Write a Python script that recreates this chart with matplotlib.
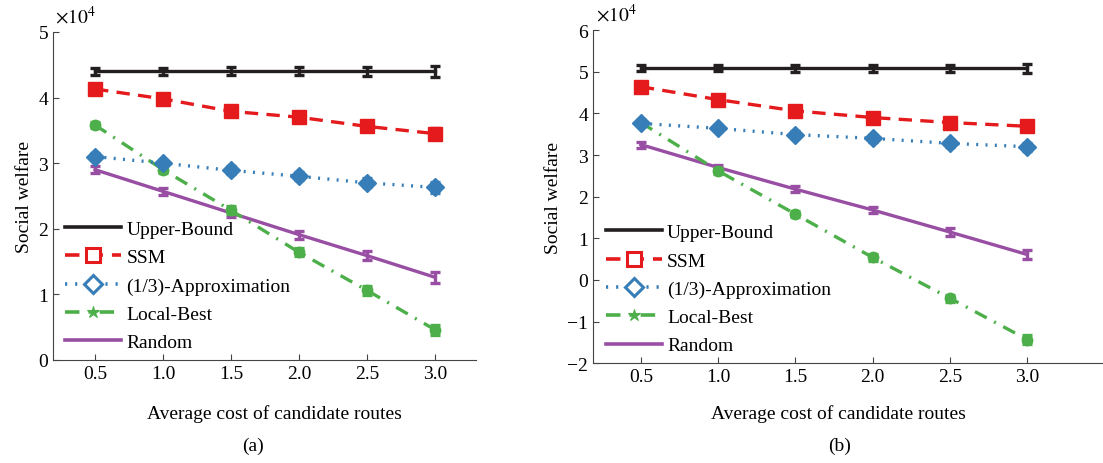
import numpy as np
import matplotlib.pyplot as plt
from matplotlib.lines import Line2D

plt.rcParams['font.family'] = ['Liberation Serif', 'DejaVu Serif']
plt.rcParams['mathtext.fontset'] = 'stix'
plt.rcParams['font.size'] = 14

# average cost of candidate routes
cost = [0.5, 1.0, 1.5, 2.0, 2.5, 3.0]
labels = ['Upper-Bound', 'SSM', '(1/3)-Approximation', 'Local-Best', 'Random']

# panel (a), social welfare in units of 1e4
a_upper = [4.40, 4.40, 4.40, 4.40, 4.40, 4.40]
a_ssm = [4.13, 3.98, 3.79, 3.70, 3.56, 3.45]
a_approx = [3.10, 3.00, 2.89, 2.80, 2.70, 2.63]
a_local = [3.58, 2.90, 2.28, 1.64, 1.06, 0.46]
a_random = [2.90, 2.57, 2.24, 1.91, 1.59, 1.26]

# panel (b)
b_upper = [5.08, 5.08, 5.08, 5.08, 5.08, 5.08]
b_ssm = [4.64, 4.33, 4.06, 3.90, 3.78, 3.69]
b_approx = [3.76, 3.64, 3.49, 3.40, 3.28, 3.20]
b_local = [3.78, 2.62, 1.58, 0.54, -0.44, -1.43]
b_random = [3.25, 2.70, 2.18, 1.68, 1.15, 0.61]

# error bar half widths
err_a = [0.05, 0.05, 0.06, 0.06, 0.07, 0.08]
err_b = [0.07, 0.07, 0.08, 0.08, 0.09, 0.10]

colors = ['#231f20', '#e41a1c', '#377eb8', '#4daf4a', '#984ea3']
styles = ['-', (0, (4, 2.5)), (0, (0.6, 2.2)), (0, (4, 2.5, 0.6, 2.5)), '-']
markers = [None, 's', 'D', 'o', None]
msizes = [0, 10, 9, 7.5, 0]


def draw(ax, series, err):
    for i, y in enumerate(series):
        ax.errorbar(cost, y, yerr=err, color=colors[i], ls=styles[i], lw=2.4,
                    marker=markers[i], ms=msizes[i], mec=colors[i], mfc=colors[i],
                    capsize=3.5, capthick=2.4, elinewidth=2.4, zorder=3 + (4 - i))
    ax.spines['top'].set_visible(False)
    ax.spines['right'].set_visible(False)
    for s in ['left', 'bottom']:
        ax.spines[s].set_color('#444444')
    ax.tick_params(direction='in', length=4, color='#444444')
    ax.set_xticks(cost)
    ax.set_xticklabels(['%.1f' % c for c in cost])
    ax.set_ylabel('Social welfare')

    handles = [
        Line2D([], [], color=colors[0], lw=2.6, ls='-'),
        Line2D([], [], color=colors[1], lw=2.6, ls=(0, (4, 2.5)), marker='s', ms=10, mfc='white', mew=2.2),
        Line2D([], [], color=colors[2], lw=2.6, ls=(0, (0.6, 2.2)), marker='D', ms=9, mfc='white', mew=2.2),
        Line2D([], [], color=colors[3], lw=2.6, ls=(0, (4, 2.5, 0.6, 2.5)), marker='*', ms=9, mew=0.8),
        Line2D([], [], color=colors[4], lw=2.6, ls='-'),
    ]
    ax.legend(handles, labels, loc='lower left', bbox_to_anchor=(0.008, 0.0), frameon=False,
              handlelength=2.9, handletextpad=0.25, labelspacing=0.55, borderaxespad=0.05)


fig = plt.figure(figsize=(11.03, 4.64), dpi=100)
ax1 = fig.add_axes([0.048, 0.222, 0.3835, 0.707])
ax2 = fig.add_axes([0.5376, 0.215, 0.4624, 0.718])

draw(ax1, [a_upper, a_ssm, a_approx, a_local, a_random], err_a)
ax1.set_xlim(0.19, 3.30)
ax1.set_ylim(0, 5)
ax1.set_yticks([0, 1, 2, 3, 4, 5])

draw(ax2, [b_upper, b_ssm, b_approx, b_local, b_random], err_b)
ax2.set_xlim(0.19, 3.49)
ax2.set_ylim(-2, 6)
ax2.set_yticks([-2, -1, 0, 1, 2, 3, 4, 5, 6])
ax2.set_yticklabels(['\u22122', '\u22121', '0', '1', '2', '3', '4', '5', '6'])

for ax in (ax1, ax2):
    ax.yaxis.labelpad = 4
    ax.text(0.005, 1.015, r'$\times10^4$', transform=ax.transAxes, fontsize=14,
            ha='left', va='bottom')

fig.text(0.249, 0.107, 'Average cost of candidate routes', ha='center', va='center')
fig.text(0.229, 0.037, '(a)', ha='center', va='center')
fig.text(0.760, 0.107, 'Average cost of candidate routes', ha='center', va='center')
fig.text(0.761, 0.037, '(b)', ha='center', va='center')

fig.savefig('out.png', dpi=100)
